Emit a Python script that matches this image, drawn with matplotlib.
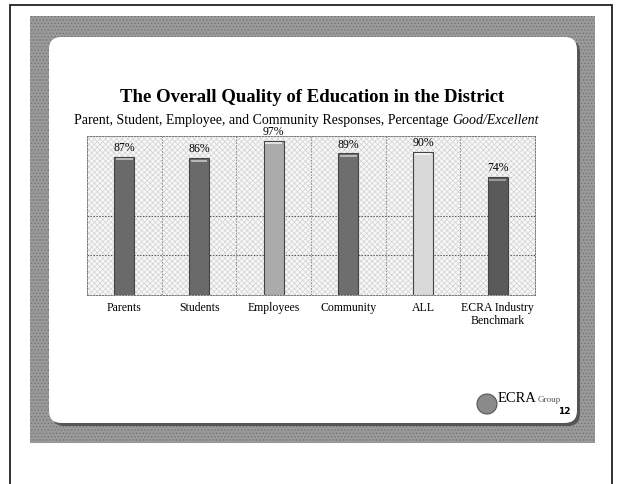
import matplotlib.pyplot as plt
import matplotlib.patches as mpatches
import numpy as np

# Survey results, percentage Good/Excellent
categories = ["Parents", "Students", "Employees", "Community", "ALL", "ECRA Industry\nBenchmark"]
values = [87, 86, 97, 89, 90, 74]
bar_colors = ["#6a6a6a", "#6a6a6a", "#ababab", "#6e6e6e", "#d9d9d9", "#5a5a5a"]
cap_colors = ["#b8b8b8", "#b8b8b8", "#e0e0e0", "#b8b8b8", "#f2f2f2", "#9a9a9a"]

W, H = 618, 484
plt.rcParams["font.family"] = ["Liberation Serif", "DejaVu Serif"]
plt.rcParams["hatch.linewidth"] = 0.5

fig = plt.figure(figsize=(W / 100, H / 100), dpi=100)


def fx(x):
    return x / W


def fy(y):
    return 1 - y / H


# page outline
fig.patches.append(mpatches.Rectangle((fx(10), fy(490)), fx(602), (490 - 5) / H,
                                      transform=fig.transFigure, fill=False,
                                      edgecolor="#222222", linewidth=1.3, zorder=-5))
# grey slide frame
fig.patches.append(mpatches.Rectangle((fx(30), fy(443)), fx(565), (443 - 16) / H,
                                      transform=fig.transFigure, facecolor="#9a9a9a",
                                      edgecolor="#707070", hatch=".....", linewidth=0,
                                      zorder=-4))
# shadow and white rounded panel
fig.patches.append(mpatches.FancyBboxPatch((fx(52), fy(426)), fx(528), (426 - 40) / H,
                                           boxstyle="round,pad=0,rounding_size=0.02",
                                           transform=fig.transFigure, facecolor="#555555",
                                           edgecolor="none", mutation_aspect=W / H,
                                           zorder=-3))
fig.patches.append(mpatches.FancyBboxPatch((fx(49), fy(423)), fx(528), (423 - 37) / H,
                                           boxstyle="round,pad=0,rounding_size=0.02",
                                           transform=fig.transFigure, facecolor="white",
                                           edgecolor="none", mutation_aspect=W / H,
                                           zorder=-2))

fig.text(fx(312), fy(97), "The Overall Quality of Education in the District",
         ha="center", va="center", fontsize=13.5, fontweight="bold")
sub = fig.text(fx(74), fy(120), "Parent, Student, Employee, and Community Responses, Percentage ",
               ha="left", va="center", fontsize=10)
renderer = fig.canvas.get_renderer()
sub_end = sub.get_window_extent(renderer).x1
fig.text(sub_end / W, fy(120), "Good/Excellent", ha="left", va="center", fontsize=10,
         style="italic")

ax = fig.add_axes([fx(87), fy(295), fx(535 - 87), (295 - 136) / H])
ax.set_facecolor("white")
ax.add_patch(mpatches.Rectangle((0, 0), 1, 1, transform=ax.transAxes, facecolor="#f7f7f7",
                                edgecolor="#d2d2d2", hatch="xxxxxx", linewidth=0, zorder=0))

x = np.arange(len(categories))
ax.bar(x, values, width=0.27, color=bar_colors, edgecolor="#444444", linewidth=0.8, zorder=3)
ax.bar(x, [1.4] * len(values), bottom=[v - 2.2 for v in values], width=0.22,
       color=cap_colors, linewidth=0, zorder=4)
for xi, v in zip(x, values):
    ax.text(xi, v + 1.8, f"{v}%", ha="center", va="bottom", fontsize=8.5)

ax.set_xlim(-0.5, len(categories) - 0.5)
ax.set_ylim(0, 100)
ax.set_yticks([25, 50])
ax.set_yticklabels([])
ax.tick_params(length=0)
ax.set_xticks(x)
ax.set_xticklabels(categories, fontsize=8.5, linespacing=1.1)
ax.tick_params(axis="x", pad=5)
ax.grid(axis="y", linestyle=(0, (1.5, 1.5)), color="#555555", linewidth=0.7, zorder=1)
for b in np.arange(0.5, len(categories) - 1, 1.0):
    ax.axvline(b, linestyle=(0, (1.5, 1.5)), color="#888888", linewidth=0.7, zorder=1)
for side in ["top", "left", "right", "bottom"]:
    ax.spines[side].set_linestyle((0, (1.5, 1.5)))
    ax.spines[side].set_color("#777777")
    ax.spines[side].set_linewidth(0.7)

# company mark in the corner
fig.patches.append(mpatches.Ellipse((fx(487), fy(404)), 20 / W, 20 / H, transform=fig.transFigure,
                                    facecolor="#8a8a8a", edgecolor="#555555", linewidth=0.8))
fig.text(fx(498), fy(399), "ECRA", ha="left", va="center", fontsize=10.5)
fig.text(fx(538), fy(400), "Group", ha="left", va="center", fontsize=6.5, color="#555555")
fig.text(fx(564), fy(411), "12", ha="center", va="center", fontsize=6.5, fontweight="bold",
         family=["DejaVu Sans"])

fig.savefig("out.png", dpi=100)
